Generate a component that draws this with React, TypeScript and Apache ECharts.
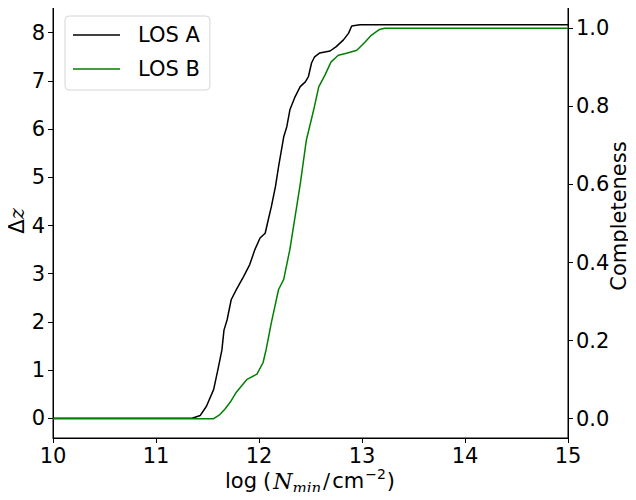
import React, { useEffect, useRef } from "react";
import * as echarts from "echarts";

const xTicks = [10, 11, 12, 13, 14, 15];
const leftTicks = [0, 1, 2, 3, 4, 5, 6, 7, 8];
const rightTicks = [0, 0.2, 0.4, 0.6, 0.8, 1.0];

const losAX = [10, 11.35, 11.43, 11.49, 11.56, 11.6, 11.64, 11.66, 11.69, 11.73, 11.78, 11.85, 11.91, 11.96, 12.01, 12.06, 12.09, 12.12, 12.16, 12.19, 12.24, 12.27, 12.3, 12.35, 12.4, 12.45, 12.48, 12.51, 12.54, 12.59, 12.69, 12.75, 12.82, 12.87, 12.9, 12.98, 15];
const losAY = [0, 0, 0.06, 0.25, 0.6, 1.0, 1.42, 1.83, 2.04, 2.46, 2.67, 2.94, 3.19, 3.5, 3.74, 3.84, 4.12, 4.39, 4.81, 5.22, 5.84, 6.05, 6.4, 6.67, 6.88, 6.98, 7.09, 7.37, 7.5, 7.58, 7.62, 7.71, 7.85, 7.99, 8.14, 8.166, 8.166];

const losBX = [10, 11.56, 11.62, 11.67, 11.72, 11.78, 11.88, 11.98, 12.04, 12.07, 12.12, 12.19, 12.24, 12.3, 12.4, 12.46, 12.53, 12.58, 12.64, 12.7, 12.77, 12.85, 12.95, 13.03, 13.09, 13.17, 13.22, 15];
const losBY = [0, 0, 0.0105, 0.025, 0.042, 0.068, 0.1, 0.114, 0.144, 0.178, 0.246, 0.331, 0.357, 0.434, 0.6, 0.714, 0.79, 0.85, 0.88, 0.914, 0.931, 0.936, 0.944, 0.965, 0.982, 0.997, 1.0, 1.0];

const FONT = "DejaVu Sans";
const MATH = "'DejaVu Serif', 'Liberation Serif', serif";
const FS = 21;

export default function App() {
  const ref = useRef<HTMLDivElement>(null);
  useEffect(() => {
    if (!ref.current) return;
    const chart = echarts.init(ref.current, undefined, { renderer: "svg" });
    const dataA = losAX.map((x, i) => [x, losAY[i]]);
    const dataB = losBX.map((x, i) => [x, losBY[i]]);
    chart.setOption({
      animation: false,
      backgroundColor: "#fff",
      grid: { left: 53, right: 68, top: 5, bottom: 62, show: true, borderColor: "#000", borderWidth: 1, backgroundColor: "transparent" },
      legend: {
        left: 65,
        top: 16,
        orient: "vertical",
        icon: "rect",
        itemWidth: 47,
        itemHeight: 1.5,
        itemGap: 12,
        padding: [8, 10, 10, 8],
        borderColor: "#d6d6d6",
        borderWidth: 1,
        borderRadius: 4,
        textStyle: { fontFamily: FONT, fontSize: FS, color: "#000", lineHeight: 22, padding: [0, 0, 0, 13] },
        data: ["LOS A", "LOS B"],
      },
      xAxis: {
        type: "value",
        min: 10,
        max: 15,
        splitLine: { show: false },
        axisLine: { show: true, onZero: false, lineStyle: { color: "#000", width: 1 } },
        axisTick: { show: true, length: 5, customValues: xTicks, lineStyle: { color: "#000" } },
        axisLabel: { customValues: xTicks, fontFamily: FONT, fontSize: FS, color: "#000", margin: 7 },
      },
      yAxis: [
        {
          type: "value",
          min: -0.408,
          max: 8.574,
          position: "left",
          splitLine: { show: false },
          axisLine: { show: true, onZero: false, lineStyle: { color: "#000", width: 1 } },
          axisTick: { show: true, length: 5, customValues: leftTicks, lineStyle: { color: "#000" } },
          axisLabel: { customValues: leftTicks, fontFamily: FONT, fontSize: FS, color: "#000", margin: 8 },
        },
        {
          type: "value",
          min: -0.0494,
          max: 1.0597,
          position: "right",
          splitLine: { show: false },
          axisLine: { show: true, onZero: false, lineStyle: { color: "#000", width: 1 } },
          axisTick: { show: true, length: 5, customValues: rightTicks, lineStyle: { color: "#000" } },
          axisLabel: { customValues: rightTicks, fontFamily: FONT, fontSize: FS, color: "#000", margin: 8, formatter: (v: number) => v.toFixed(1) },
        },
      ],
      graphic: [
        {
          type: "text",
          x: 17,
          y: 221,
          rotation: Math.PI / 2,
          style: {
            text: "{a|Δ}{b|z}",
            align: "center",
            verticalAlign: "middle",
            textAlign: "center",
            textVerticalAlign: "middle",
            rich: {
              a: { fontFamily: FONT, fontSize: FS, fill: "#000" },
              b: { fontFamily: MATH, fontStyle: "italic", fontSize: 21, fill: "#000" },
            },
          },
        },
        {
          type: "text",
          x: 619,
          y: 216,
          rotation: Math.PI / 2,
          style: {
            text: "Completeness",
            align: "center",
            verticalAlign: "middle",
            textAlign: "center",
            textVerticalAlign: "middle",
            fontFamily: FONT,
            fontSize: FS,
            fill: "#000",
          },
        },
        {
          type: "text",
          x: 310,
          y: 481,
          style: {
            text: "{r|log}{q|(}{m|N}{s|min}{d|/}{r|cm}{p|−2}{r|)}",
            align: "center",
            verticalAlign: "middle",
            textAlign: "center",
            textVerticalAlign: "middle",
            rich: {
              r: { fontFamily: FONT, fontSize: FS, fill: "#000", lineHeight: 28, verticalAlign: "middle" },
              q: { fontFamily: FONT, fontSize: FS, fill: "#000", lineHeight: 28, verticalAlign: "middle", padding: [0, 2, 0, 6] },
              m: { fontFamily: MATH, fontStyle: "italic", fontSize: 22, fill: "#000", lineHeight: 28, verticalAlign: "middle" },
              d: { fontFamily: MATH, fontSize: 21, fill: "#000", lineHeight: 28, verticalAlign: "middle", padding: [0, 2, 0, 2] },
              s: { fontFamily: MATH, fontStyle: "italic", fontSize: 15, fill: "#000", lineHeight: 18, verticalAlign: "bottom" },
              p: { fontFamily: FONT, fontSize: 14, fill: "#000", lineHeight: 18, verticalAlign: "top", padding: [0, 1, 0, 1] },
            },
          },
        },
      ],
      series: [
        {
          name: "LOS A",
          type: "line",
          yAxisIndex: 0,
          data: dataA,
          showSymbol: false,
          symbol: "none",
          color: "#000",
          lineStyle: { color: "#000", width: 1.5 },
        },
        {
          name: "LOS B",
          type: "line",
          yAxisIndex: 1,
          data: dataB,
          showSymbol: false,
          symbol: "none",
          color: "#008000",
          lineStyle: { color: "#008000", width: 1.5 },
        },
      ],
    });
    return () => chart.dispose();
  }, []);
  return <div ref={ref} style={{ width: 636, height: 500, margin: -8 }} />;
}
